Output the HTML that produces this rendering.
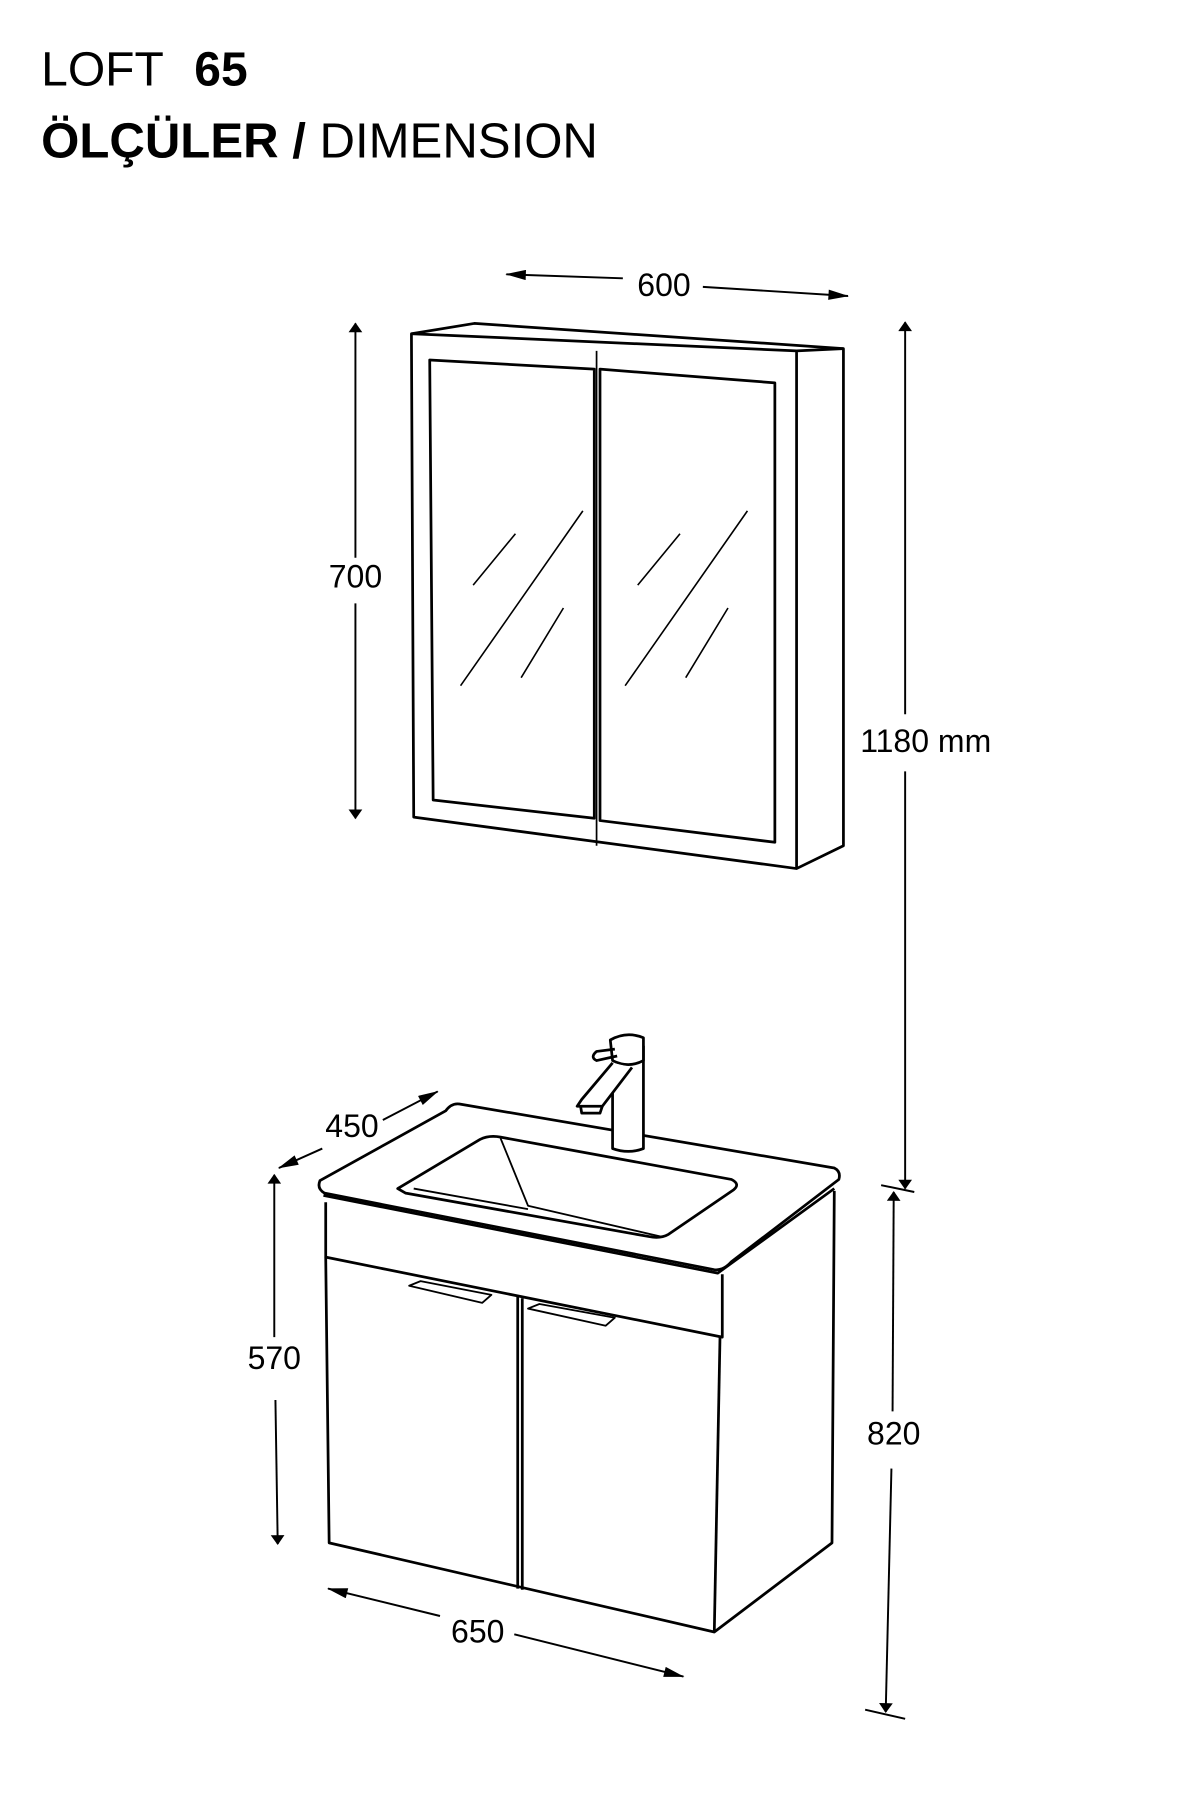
<!DOCTYPE html>
<html><head><meta charset="utf-8"><style>html,body{margin:0;padding:0;background:#fff;width:1200px;height:1800px;overflow:hidden}</style></head>
<body>
<svg width="1200" height="1800" viewBox="0 0 1050 1575" xmlns="http://www.w3.org/2000/svg" font-family="Liberation Sans, Arial, sans-serif">
<defs><marker id="a" viewBox="0 0 10 14" refX="9" refY="7" markerWidth="10" markerHeight="12" orient="auto-start-reverse" markerUnits="userSpaceOnUse"><path d="M0,0 L10,7 L0,14 Z" fill="#000"/></marker>
<marker id="b" viewBox="0 0 20 10" refX="19" refY="5" markerWidth="20" markerHeight="9" orient="auto-start-reverse" markerUnits="userSpaceOnUse"><path d="M0,0 L20,5 L0,10 Z" fill="#000"/></marker></defs>
<text x="36" y="75" font-size="42">LOFT <tspan x="170" font-weight="bold">65</tspan></text>
<text x="36" y="138" font-size="43"><tspan font-weight="bold">ÖLÇÜLER /</tspan> DIMENSION</text>
<g fill="none" stroke="#000" stroke-width="2.4" stroke-linejoin="round">
<path d="M360,292 L415,283 L738,305 L738,740 L697,760 L362,715 Z"/>
<path d="M360,292 L697,307 L738,305 M697,307 L697,760"/>
<path d="M376,315 L520,323 L520,716 L379,700 Z"/>
<path d="M525,323 L678,335 L678,737 L525,718 Z"/>
<path d="M522,307 L522,740" stroke-width="1.5"/>
<path d="M414,512 L451,467 M403,600 L510,447 M456,593 L493,532 M558,512 L595,467 M547,600 L654,447 M600,593 L637,532" stroke-width="1.4"/>
<path d="M280,1033 L390,972 Q395,965 402,966 L730,1022 Q736,1025 734,1032 L640,1104 Q633,1112 625,1111 L284,1044 Q277,1040 280,1033 Z"/>
<path d="M283,1046 L628,1114 L730,1040"/>
<path d="M285,1052 L285,1100 L632,1170 L632,1115"/>
<path d="M285,1100 L288,1350 L625,1428 L728,1350 L730,1042"/>
<path d="M630,1170 L625,1428"/>
<path d="M453,1134 L453,1390 M457,1136 L457,1391"/>
<path d="M348,1040 L420,997 Q428,993 438,995 L640,1032 Q648,1036 642,1041 L585,1080 Q578,1084 568,1082 L355,1044 Z"/>
<path d="M438,996 L462,1055 L578,1082 M362,1040 L462,1058" stroke-width="1.6"/>
<path d="M358,1125 L368,1121 L430,1133 L422,1140 Z" stroke-width="1.6"/>
<path d="M462,1145 L472,1141 L538,1153 L530,1160 Z" stroke-width="1.6"/>
<path d="M536,930 L536,1005 Q550,1010 563,1005 L563,915" fill="#fff"/>
<path d="M534,910 Q548,902 563,908 L563,928 Q550,935 536,928 Z" fill="#fff"/>
<path d="M536,930 L509,962 L505,968 L527,968 L553,934" fill="#fff"/>
<path d="M508,968 L509,974 L525,974 L527,968"/>
<path d="M538,918 L522,920 Q516,925 522,928 L540,924"/>
</g>
<g stroke="#000" stroke-width="1.7" fill="none">
<line x1="545" y1="243.5" x2="443" y2="240" marker-end="url(#b)"/>
<line x1="615" y1="251" x2="742" y2="259" marker-end="url(#b)"/>
<line x1="311" y1="488" x2="311" y2="283" marker-end="url(#a)"/>
<line x1="311" y1="528" x2="311" y2="716" marker-end="url(#a)"/>
<line x1="792" y1="625" x2="792" y2="282" marker-end="url(#a)"/>
<line x1="792" y1="675" x2="792" y2="1040" marker-end="url(#a)"/>
<line x1="771" y1="1037" x2="800" y2="1043"/>
<line x1="781" y1="1235" x2="782" y2="1043" marker-end="url(#a)"/>
<line x1="780" y1="1285" x2="775" y2="1498" marker-end="url(#a)"/>
<line x1="757" y1="1496" x2="792" y2="1504"/>
<line x1="335" y1="980" x2="383" y2="955" marker-end="url(#b)"/>
<line x1="282" y1="1005" x2="244" y2="1022" marker-end="url(#b)"/>
<line x1="240" y1="1170" x2="240" y2="1028" marker-end="url(#a)"/>
<line x1="241" y1="1225" x2="243" y2="1351" marker-end="url(#a)"/>
<line x1="385" y1="1414" x2="287" y2="1390" marker-end="url(#b)"/>
<line x1="450" y1="1430" x2="598" y2="1467" marker-end="url(#b)"/>
</g>
<g font-size="28" text-anchor="middle" fill="#000">
<text x="581" y="259">600</text>
<text x="311" y="514">700</text>
<text x="810" y="658">1180 mm</text>
<text x="782" y="1264">820</text>
<text x="308" y="995">450</text>
<text x="240" y="1198">570</text>
<text x="418" y="1437">650</text>
</g>
</svg>
</body></html>
